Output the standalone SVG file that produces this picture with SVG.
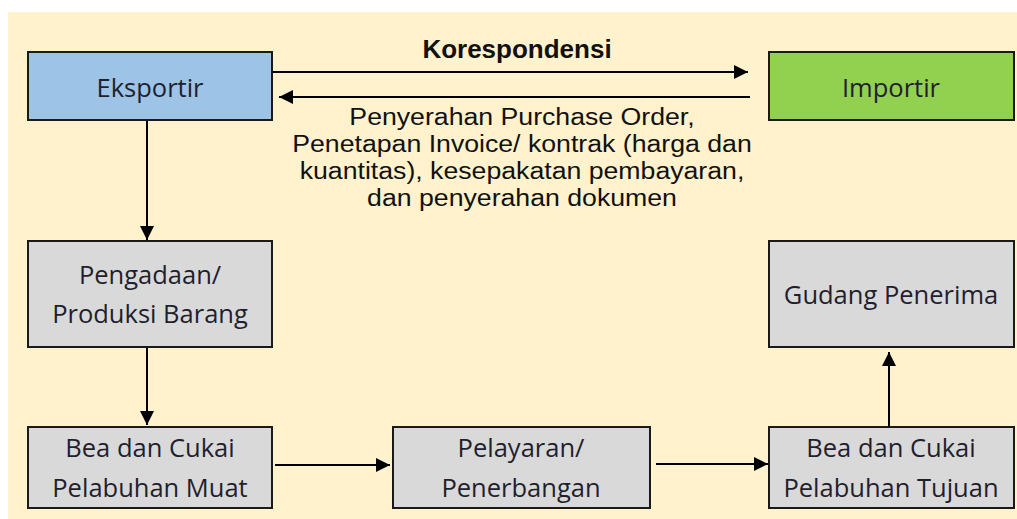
<svg xmlns="http://www.w3.org/2000/svg" width="1017" height="519" viewBox="0 0 1017 519">
<defs>
<marker id="ah" viewBox="0 0 14 14" refX="14" refY="7" markerWidth="14" markerHeight="14" markerUnits="userSpaceOnUse" orient="auto">
<path d="M0,0 L14,7 L0,14 Z" fill="#000"/>
</marker>
</defs>
<style>
.box{stroke:#1a1a1a;stroke-width:2}
.gray{fill:#d9d9d9}
.bt{font-family:"Open Sans","Noto Sans",sans-serif;font-size:25.5px;fill:#1f1f2e;text-anchor:middle}
.lbl{font-family:"Liberation Sans",Arial,sans-serif;font-size:23px;fill:#111;text-anchor:middle}
.con line{stroke:#000;stroke-width:2;marker-end:url(#ah)}
</style>
<rect x="0" y="0" width="1017" height="519" fill="#ffffff"/>
<rect x="8" y="12" width="1009" height="507" fill="#fff2cc"/>
<g id="eksportir"><rect class="box" x="28" y="52" width="244" height="68" fill="#9dc3e6"/><text class="bt" x="150" y="97">Eksportir</text></g>
<g id="importir"><rect class="box" x="769" y="52" width="245" height="68" fill="#92d050"/><text class="bt" x="891" y="97">Importir</text></g>
<g id="pengadaan"><rect class="box gray" x="28" y="241" width="244" height="106"/><text class="bt" x="150" y="284">Pengadaan/</text><text class="bt" x="150" y="323">Produksi Barang</text></g>
<g id="gudang"><rect class="box gray" x="769" y="241" width="245" height="106"/><text class="bt" x="891" y="304">Gudang Penerima</text></g>
<g id="bcmuat"><rect class="box gray" x="28" y="427" width="244" height="81"/><text class="bt" x="150" y="457">Bea dan Cukai</text><text class="bt" x="150" y="497">Pelabuhan Muat</text></g>
<g id="pelayaran"><rect class="box gray" x="393" y="427" width="257" height="81"/><text class="bt" x="521" y="457">Pelayaran/</text><text class="bt" x="521" y="497">Penerbangan</text></g>
<g id="bctujuan"><rect class="box gray" x="769" y="427" width="245" height="81"/><text class="bt" x="891" y="457">Bea dan Cukai</text><text class="bt" x="891" y="497">Pelabuhan Tujuan</text></g>
<g id="connectors" class="con">
<line x1="273" y1="72" x2="748" y2="72"/>
<line x1="750" y1="97" x2="279" y2="97"/>
<line x1="147" y1="121" x2="147" y2="240"/>
<line x1="147" y1="348" x2="147" y2="425"/>
<line x1="275" y1="465" x2="390" y2="465"/>
<line x1="656" y1="464" x2="768" y2="464"/>
<line x1="889" y1="427" x2="889" y2="352"/>
</g>
<g id="labels">
<text class="lbl" x="517" y="58" style="font-weight:bold;font-size:26px">Korespondensi</text>
<g transform="translate(522,0) scale(1.16,1)">
<text class="lbl" x="0" y="125">Penyerahan Purchase Order,</text>
<text class="lbl" x="0" y="152">Penetapan Invoice/ kontrak (harga dan</text>
<text class="lbl" x="0" y="179">kuantitas), kesepakatan pembayaran,</text>
<text class="lbl" x="0" y="206">dan penyerahan dokumen</text>
</g>
</g>
</svg>
